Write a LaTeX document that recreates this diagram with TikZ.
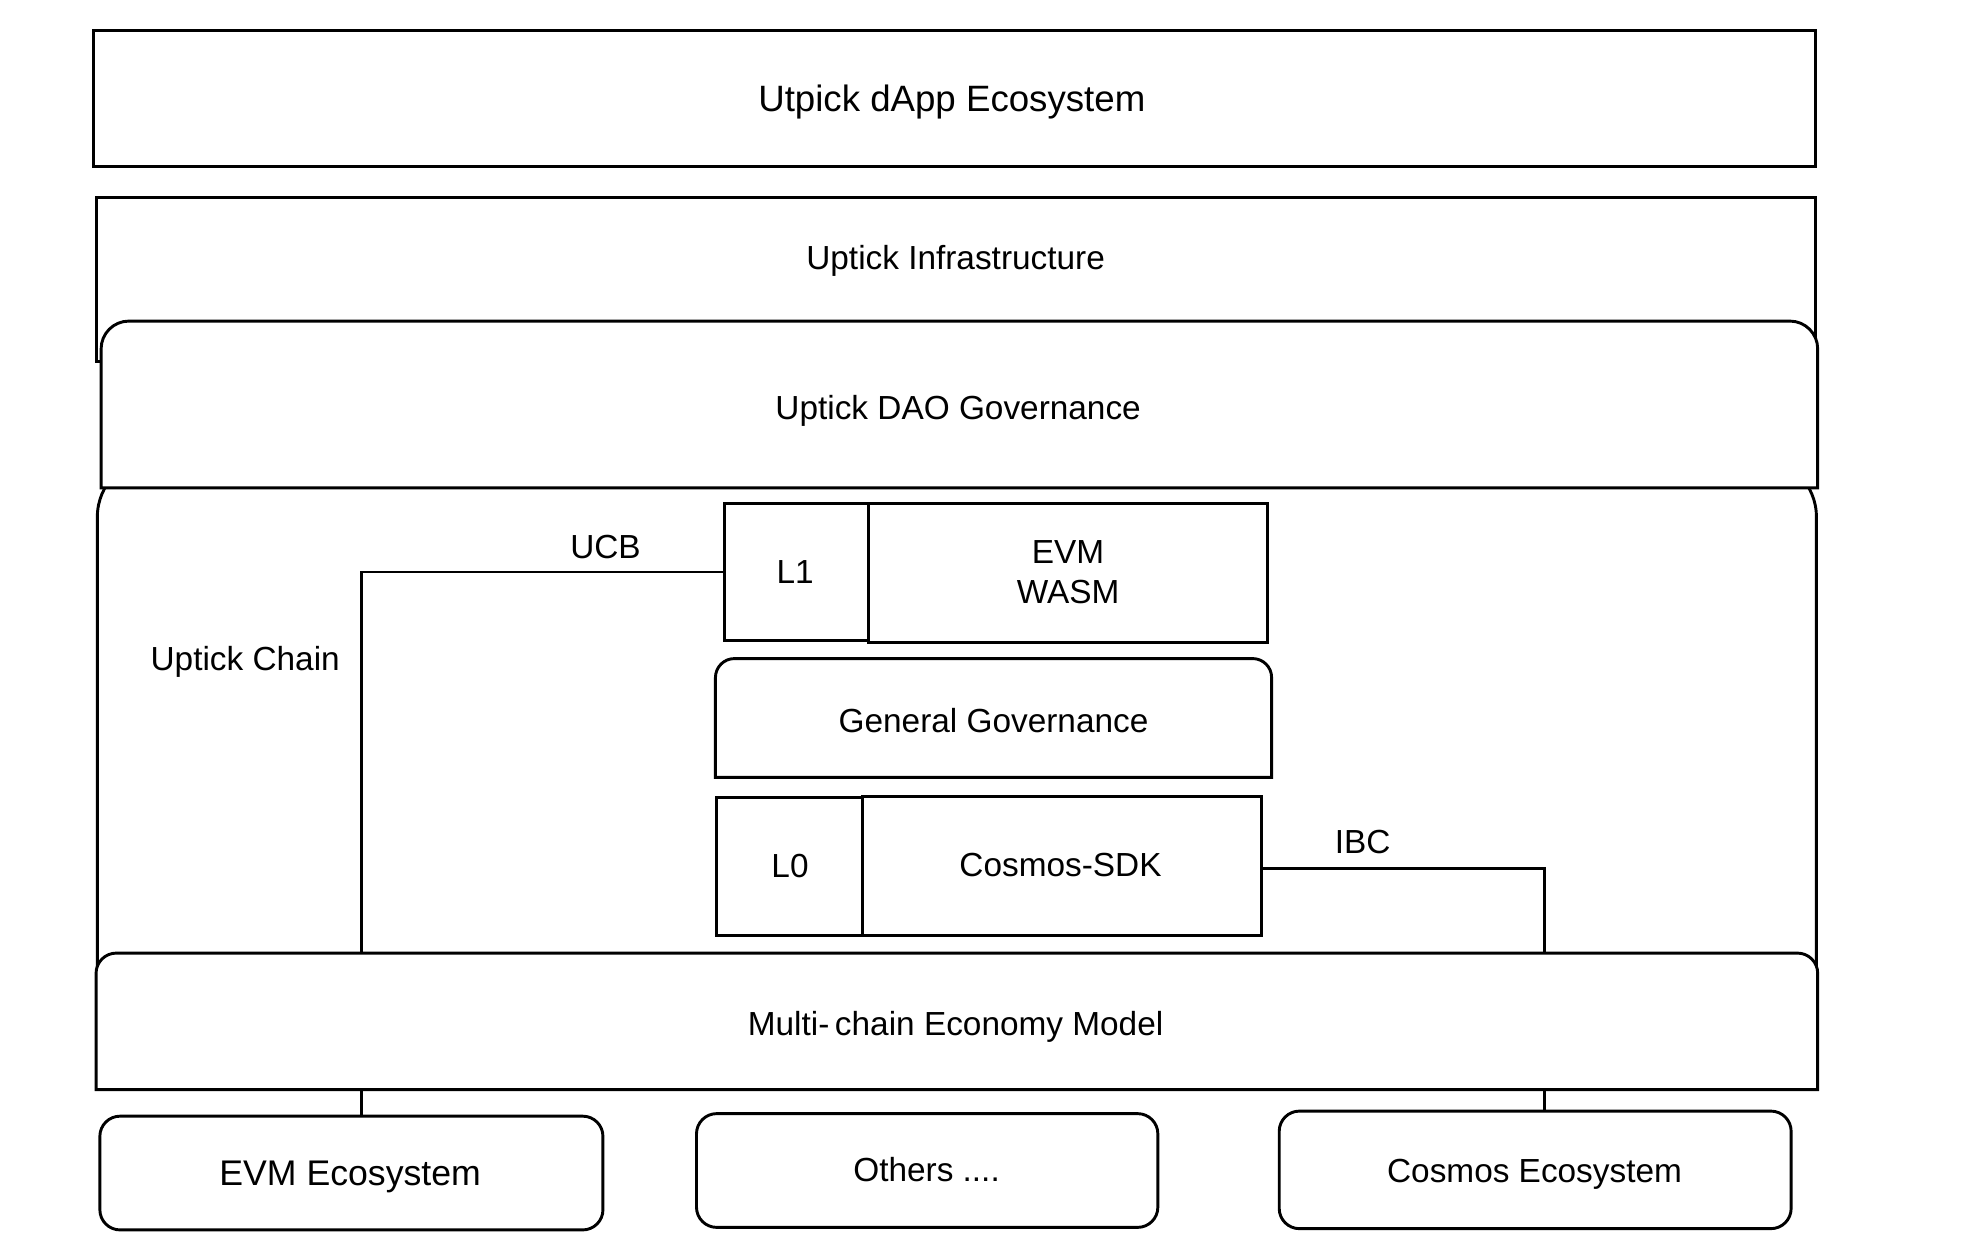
\documentclass[tikz,border=0pt]{standalone}
\usepackage{fontspec}
\setmainfont{Liberation Sans}
\begin{document}
\begin{tikzpicture}[x=1pt,y=1pt,
  ln/.style={draw=black,line width=2.3pt},
  txt/.style={font=\fontsize{26.4}{31}\selectfont,text=black,inner sep=0pt,anchor=base,yshift=-9.5pt},
  mltxt/.style={font=\fontsize{26.4}{31}\selectfont,text=black,inner sep=0pt,align=center},
  bigtxt/.style={font=\fontsize{29}{34}\selectfont,text=black,inner sep=0pt,anchor=base,yshift=-10.4pt},
  evmtxtstyle/.style={font=\fontsize{28.2}{34}\selectfont,text=black,inner sep=0pt,anchor=base,yshift=-10.1pt},
  sqbox/.style={ln,fill=white,rectangle,inner sep=0pt},
  rbox/.style={ln,fill=white,rectangle,rounded corners=16pt,inner sep=0pt},
  hidbox/.style={draw=none,rectangle,inner sep=0pt},
  conn/.style={ln}]
\useasboundingbox (0,0) rectangle (1568,-988.9);
\fill[white] (0,0) rectangle (1568,-988.9);
% top-rounded outline: x1,y1,x2,y2,r (y measured downward)
\newcommand\toprbox[5]{%
  \draw[ln,fill=white] (#1,-#4) -- (#1,-#2-#5)
    arc[start angle=180,end angle=90,radius=#5pt] -- (#3-#5,-#2)
    arc[start angle=90,end angle=0,radius=#5pt] -- (#3,-#4) -- cycle;}
% dApp ecosystem
\node[sqbox,minimum width=1362pt,minimum height=108pt] (app) at (755,-78) {};
\node[bigtxt] (apptxt) at (753,-78) {Utpick dApp Ecosystem};
% infrastructure
\node[sqbox,minimum width=1360pt,minimum height=130pt] (infra) at (756,-221) {};
\node[txt] (infratxt) at (756,-204) {Uptick Infrastructure};
% uptick chain
\draw[ln,fill=white,rounded corners=47pt] (77,-362) rectangle (1437,-830);
\node[hidbox,minimum width=1360pt,minimum height=468pt] (chain) at (757,-596) {};
\node[txt] (chaintxt) at (194,-521) {Uptick Chain};
% DAO governance
\toprbox{80}{254}{1438}{386}{22}
\node[hidbox,minimum width=1358pt,minimum height=132pt] (dao) at (759,-320) {};
\node[txt] (daotxt) at (758,-322) {Uptick DAO Governance};
% L1 / EVM WASM
\node[sqbox,minimum width=316pt,minimum height=110pt] (evm) at (845,-453) {};
\node[sqbox,minimum width=114pt,minimum height=109pt] (l1) at (630,-452.5) {};
\node[txt] (l1txt) at (629,-452) {L1};
\node[mltxt] (evmtxt) at (845,-452.5) {EVM\\[1pt]WASM};
% General governance
\toprbox{566}{521}{1006}{615}{15}
\node[hidbox,minimum width=440pt,minimum height=94pt] (gg) at (786,-568) {};
\node[txt] (ggtxt) at (786,-570) {General Governance};
% L0 / Cosmos-SDK
\node[sqbox,minimum width=316pt,minimum height=110pt] (sdk) at (840,-685) {};
\node[sqbox,minimum width=115pt,minimum height=109pt] (l0) at (624.5,-685.5) {};
\node[txt] (l0txt) at (625,-685) {L0};
\node[txt] (sdktxt) at (839,-684) {Cosmos-SDK};
% connectors inside chain
\coordinate (ucbend) at (286,-754);
\coordinate (ibcend) at (1222,-754);
\draw[conn] (l1.west) -| (ucbend);
\draw[conn] ([yshift=-2pt]sdk.east) -| (ibcend);
\node[txt] (ucb) at (479,-432) {UCB};
\node[txt] (ibc) at (1078,-666) {IBC};
% multi-chain economy model
\toprbox{76}{754}{1438}{862}{16}
\node[hidbox,minimum width=1362pt,minimum height=108pt] (multi) at (757,-808) {};
\node[txt] (multitxt) at (756,-810) {Multi-\,chain Economy Model};
% ecosystems
\node[rbox,minimum width=398pt,minimum height=90pt] (evmeco) at (278,-928) {};
\node[evmtxtstyle] (evmecotxt) at (277,-928) {EVM Ecosystem};
\node[rbox,minimum width=365pt,minimum height=90pt] (others) at (733.5,-926) {};
\node[txt] (otherstxt) at (733,-925) {Others ....};
\node[rbox,minimum width=405pt,minimum height=93pt] (cosmoseco) at (1214.5,-925.5) {};
\node[txt] (cosmosecotxt) at (1214,-926) {Cosmos Ecosystem};
% bottom connectors
\draw[conn] (multi.south -| ucbend) -- (evmeco.north -| ucbend);
\draw[conn] (multi.south -| ibcend) -- (cosmoseco.north -| ibcend);
\end{tikzpicture}
\end{document}
